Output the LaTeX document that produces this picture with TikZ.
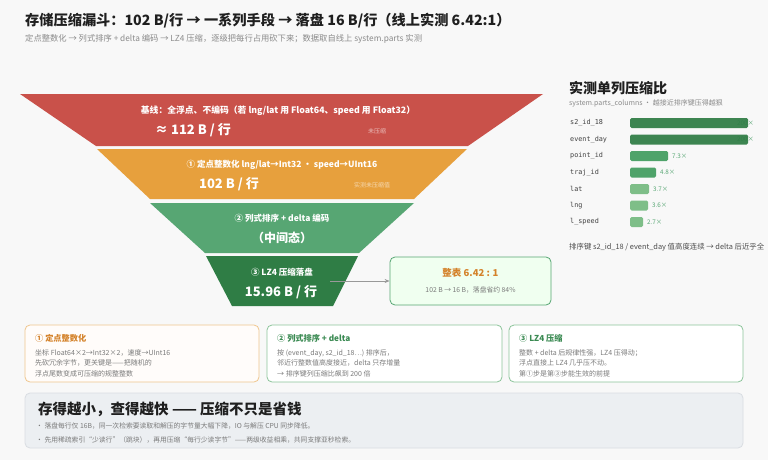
\documentclass[tikz,border=0pt]{standalone}
\usepackage{fontspec}
\setmainfont{Noto Sans CJK SC}
\newfontfamily\monofont{DejaVu Sans Mono}
\usetikzlibrary{arrows.meta}
\definecolor{bgc}{HTML}{F8F8F8}
\definecolor{titlec}{HTML}{1F1F1F}
\definecolor{subc}{HTML}{8A8A8A}
\definecolor{redl}{HTML}{C9514A}
\definecolor{orangel}{HTML}{E7A03D}
\definecolor{greenl}{HTML}{57A673}
\definecolor{dgreenl}{HTML}{2F7D45}
\definecolor{midg}{HTML}{4FA36A}
\definecolor{lightg}{HTML}{7EBE88}
\definecolor{ratioc}{HTML}{D4822A}
\definecolor{boxtxt}{HTML}{7A7A7A}
\definecolor{orbord}{HTML}{EFC68E}
\definecolor{grbord}{HTML}{8CC49A}
\definecolor{grtitle}{HTML}{3A8A52}
\definecolor{bannerf}{HTML}{ECEFF2}
\definecolor{bannerd}{HTML}{D9DDE2}
\begin{document}
\begin{tikzpicture}[x=1pt,y=-1pt,
  layertxt/.style={text=white,font=\fontsize{8.8}{10}\selectfont\bfseries,inner sep=0pt},
  layerbig/.style={text=white,font=\fontsize{13}{15}\selectfont\bfseries,inner sep=0pt},
  layernote/.style={text=white,opacity=0.6,font=\fontsize{6}{7}\selectfont,inner sep=0pt},
  rowlab/.style={anchor=west,text=titlec!85,font=\monofont\fontsize{6.8}{8}\selectfont,inner sep=0pt},
  bar/.style={rounded corners=1.5pt},
  barval/.style={anchor=west,text=greenl,font=\fontsize{6.3}{7}\selectfont,inner sep=0pt},
  infobox/.style={rounded corners=5pt,line width=0.8pt},
  boxtitle/.style={anchor=west,font=\fontsize{8.2}{9}\selectfont\bfseries,inner sep=0pt},
  boxbody/.style={anchor=north west,align=left,text=boxtxt,font=\fontsize{7}{10.6}\selectfont,inner sep=0pt}
]
\useasboundingbox (0,0) rectangle (768,460);
\fill[bgc] (0,0) rectangle (768,460);

% title
\node[anchor=west,inner sep=0pt,text=titlec,font=\fontsize{14.2}{16}\selectfont\bfseries] (title) at (25,21)
  {存储压缩漏斗：102 B/行 → 一系列手段 → 落盘 16 B/行（线上实测 6.42:1）};
\node[anchor=west,inner sep=0pt,text=subc,font=\fontsize{8.3}{9}\selectfont] (subtitle) at (25,39)
  {定点整数化 → 列式排序 + delta 编码 → LZ4 压缩，逐级把每行占用砍下来；数据取自线上 system.parts 实测};

% funnel
\fill[redl] (20,94) -- (543,94) -- (468,146) -- (96,146) -- cycle;
\fill[orangel] (97,149) -- (467,149) -- (414,199) -- (150,199) -- cycle;
\fill[greenl] (150,203) -- (414,203) -- (359,253) -- (205,253) -- cycle;
\fill[dgreenl] (206,256) -- (358,256) -- (333,306) -- (232,306) -- cycle;

\node[layertxt] (l1a) at (278,111) {基线：全浮点、不编码（若 lng/lat 用 Float64、speed 用 Float32）};
\node[layerbig] (l1b) at (193,130) {≈ 112 B / 行};
\node[layernote] (l1c) at (377,131) {未压缩};
\node[layertxt,font=\fontsize{8.5}{10}\selectfont\bfseries] (l2a) at (282,165) {① 定点整数化 lng/lat→Int32 · speed→UInt16};
\node[layerbig] (l2b) at (229,184) {102 B / 行};
\node[layernote] (l2c) at (372,185) {实测未压缩值};
\node[layertxt,font=\fontsize{8.5}{10}\selectfont\bfseries] (l3a) at (282,218) {② 列式排序 + delta 编码};
\node[layerbig,font=\fontsize{12}{14}\selectfont\bfseries] (l3b) at (282,238) {（中间态）};
\node[layertxt,font=\fontsize{8.5}{10}\selectfont\bfseries] (l4a) at (282,272) {③ LZ4 压缩落盘};
\node[layerbig] (l4b) at (281,292) {15.96 B / 行};

% ratio box
\node[infobox,draw=greenl,fill=green!6!white,minimum width=161pt,minimum height=48pt,inner sep=0pt] (ratio) at (470.5,281) {};
\node[inner sep=0pt,text=ratioc,font=\fontsize{9.5}{11}\selectfont\bfseries] (ratioa) at (470.5,273) {整表 6.42 : 1};
\node[inner sep=0pt,text=boxtxt,font=\fontsize{6.8}{8}\selectfont] (ratiob) at (470.5,290) {102 B → 16 B，落盘省约 84\%};
\coordinate (arrstart) at (330,281);
\draw[gray!80,line width=0.7pt,-{Stealth[length=5pt,width=4pt]}] (arrstart) -- (ratio.west);

% right chart
\node[anchor=west,inner sep=0pt,text=titlec,font=\fontsize{14}{15}\selectfont\bfseries] (ctitle) at (569,88) {实测单列压缩比};
\node[anchor=west,inner sep=0pt,text=subc,font=\fontsize{7}{8}\selectfont] (csub) at (569,103) {system.parts\_columns · 越接近排序键压得越狠};

\node[rowlab] (r1) at (570,123) {s2\_id\_18};
\node[barval] (v1) at (737,123) {200×};
\fill[dgreenl,bar,opacity=0.93] (630,118) rectangle (748,128);
\node[rowlab] (r2) at (570,139.5) {event\_day};
\node[barval] (v2) at (737,139.5) {200×};
\fill[dgreenl,bar,opacity=0.93] (630,134.5) rectangle (748,144.5);
\node[rowlab] (r3) at (570,156) {point\_id};
\fill[midg,bar] (630,151) rectangle (668,161);
\node[barval] (v3) at (672,156) {7.3×};
\node[rowlab] (r4) at (570,172.5) {traj\_id};
\fill[midg,bar] (630,167.5) rectangle (656,177.5);
\node[barval] (v4) at (660,172.5) {4.8×};
\node[rowlab] (r5) at (570,189) {lat};
\fill[lightg,bar] (630,184) rectangle (649,194);
\node[barval] (v5) at (653,189) {3.7×};
\node[rowlab] (r6) at (570,205.5) {lng};
\fill[lightg,bar] (630,200.5) rectangle (648,210.5);
\node[barval] (v6) at (652,205.5) {3.6×};
\node[rowlab] (r7) at (570,222) {l\_speed};
\fill[lightg,bar] (630,217) rectangle (643,227);
\node[barval] (v7) at (647,222) {2.7×};
\node[anchor=west,inner sep=0pt,text=titlec!80,font=\fontsize{7.4}{8}\selectfont] (cnote) at (569,247) {排序键 s2\_id\_18 / event\_day 值高度连续 → delta 后近乎全};

% bottom boxes
\filldraw[infobox,draw=orbord,fill=white!98!orange] (25,325) rectangle (259,382);
\node[boxtitle,text=ratioc] (b1t) at (35,338) {① 定点整数化};
\node[boxbody] (b1) at (35,349) {坐标 Float64×2→Int32×2，速度→UInt16\\先砍冗余字节，更关键是——把随机的\\浮点尾数变成可压缩的规整整数};

\filldraw[infobox,draw=grbord,fill=white] (267,325) rectangle (502,382);
\node[boxtitle,text=grtitle] (b2t) at (277,338) {② 列式排序 + delta};
\node[boxbody] (b2) at (277,349) {按 (event\_day, s2\_id\_18…) 排序后，\\邻近行整数值高度接近，delta 只存增量\\→ 排序键列压缩比飙到 200 倍};

\filldraw[infobox,draw=grbord,fill=white] (509,325) rectangle (743,382);
\node[boxtitle,text=grtitle] (b3t) at (519,338) {③ LZ4 压缩};
\node[boxbody] (b3) at (519,349) {整数 + delta 后规律性强，LZ4 压得动；\\浮点直接上 LZ4 几乎压不动。\\第①步是第③步能生效的前提};

% banner
\filldraw[rounded corners=5pt,fill=bannerf,draw=bannerd,line width=0.8pt] (25,393) rectangle (743,448);
\node[anchor=west,inner sep=0pt,text=titlec,font=\fontsize{14.5}{16}\selectfont\bfseries] (bt) at (38,409) {存得越小，查得越快 —— 压缩不只是省钱};
\node[anchor=west,inner sep=0pt,text=boxtxt,font=\fontsize{6.8}{8}\selectfont] (bb1) at (36,426) {· 落盘每行仅 16B，同一次检索要读取和解压的字节量大幅下降，IO 与解压 CPU 同步降低。};
\node[anchor=west,inner sep=0pt,text=boxtxt,font=\fontsize{6.8}{8}\selectfont] (bb2) at (36,440) {· 先用稀疏索引“少读行”（跳块），再用压缩“每行少读字节”——两级收益相乘，共同支撑亚秒检索。};
\end{tikzpicture}
\end{document}
